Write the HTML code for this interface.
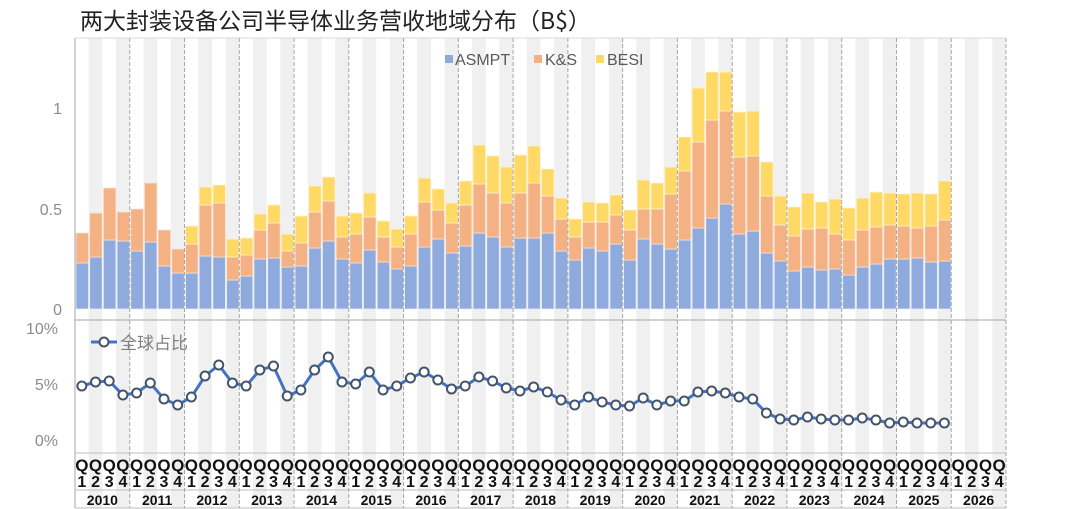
<!DOCTYPE html>
<html><head><meta charset="utf-8"><style>
body{margin:0;background:#fff;}
svg{display:block;font-family:"Liberation Sans","Noto Sans CJK SC",sans-serif;}
</style></head><body>
<svg id="c" width="1080" height="509" viewBox="0 0 1080 509" xmlns="http://www.w3.org/2000/svg">
<rect width="1080" height="509" fill="#fff"/>
<g id="bg"></g>
<g id="bars"></g>
<g id="grid"></g>
<g id="line"></g>
<text x="80" y="29" font-size="23" fill="#222" font-family="'Noto Sans CJK SC',sans-serif">两大封装设备公司半导体业务营收地域分布（B$）</text>
<g font-size="16" fill="#8c8c8c" text-anchor="end">
<text x="62" y="315">0</text><text x="62" y="215">0.5</text><text x="62" y="114">1</text>
<text x="58" y="334">10%</text><text x="58" y="390">5%</text><text x="58" y="446">0%</text>
</g>
<g font-size="16" fill="#595959">
<rect x="445" y="55" width="8" height="8" fill="#8eaadb"/><text x="455" y="65">ASMPT</text>
<rect x="534" y="55" width="8" height="8" fill="#f4b183"/><text x="545" y="65">K&amp;S</text>
<rect x="596" y="55" width="8" height="8" fill="#ffd966"/><text x="607" y="65">BESI</text>
</g>
<line x1="91" y1="342" x2="117" y2="342" stroke="#4472c4" stroke-width="3"/>
<circle cx="104" cy="342" r="4.5" fill="#fff" stroke="#44546a" stroke-width="2"/>
<text x="120" y="349" font-size="17" fill="#7f7f7f" font-family="'Noto Sans CJK SC',sans-serif">全球占比</text>
</svg>
<script>
var NS="http://www.w3.org/2000/svg";
function el(p,t,a,txt){var e=document.createElementNS(NS,t);for(var k in a)e.setAttribute(k,a[k]);if(txt!=null)e.textContent=txt;document.getElementById(p).appendChild(e);return e;}
var x0=75,x1=1006,n=68,q=(x1-x0)/n;
var d=[[263,233,233],[257,213,213],[240,188,188],[241,212,212],[251,209,209],[242,183,183],[266,230,230],[273,249,249],
[273,244,226],[256,205,187],[257,203,185],[280,257,239],[276,255,238],[259,230,214],[258,223,205],[267,251,234],
[266,243,216],[248,212,186],[241,201,177],[259,237,216],[263,234,213],[250,217,193],[262,237,221],[269,247,229],
[266,234,216],[247,202,178],[239,210,189],[253,223,203],[246,205,181],[233,184,145],[237,193,156],[247,203,167],
[238,193,155],[238,183,146],[233,196,169],[251,219,198],[260,237,219],[248,222,202],[251,222,203],[244,215,195],
[260,230,210],[239,209,180],[244,209,183],[249,194,167],[240,171,137],[228,142,88],[218,120,72],[204,111,72],
[234,157,112],[231,156,111],[253,196,162],[261,225,196],[271,236,207],[267,229,193],[270,228,202],[269,234,199],
[275,240,208],[267,230,198],[264,227,192],[259,225,193],[259,226,194],[258,228,193],[262,226,194],[261,220,181]];
var L=[386,382,381,395,393,383,399,405,397,376,365,383,386,370,366,396,390,370,357,382,384,372,390,386,378,372,380,389,386,377,381,388,391,387,392,400,405,397,402,405,406,398,405,401,401,392,391,393,397,399,413,419,420,417,419,420,420,418,420,423,422,423,423,423];
var B=309;
for(var i=0;i<n;i++){if(i%2==1)el("bg","rect",{x:x0+i*q,y:38,width:q,height:470,fill:"#f0f0f0"});}
for(var i=0;i<d.length;i++){var xa=x0+i*q+1,w=q-1.2,r=d[i];
el("bars","rect",{x:xa,y:r[0],width:w,height:B-r[0],fill:"#8faadc",stroke:"#e6ecf7","stroke-width":0.8});
if(r[1]<r[0])el("bars","rect",{x:xa,y:r[1],width:w,height:r[0]-r[1],fill:"#f4b183",stroke:"#fbe3d3","stroke-width":0.8});
if(r[2]<r[1])el("bars","rect",{x:xa,y:r[2],width:w,height:r[1]-r[2],fill:"#ffd966",stroke:"#fff2cc","stroke-width":0.8});}
el("grid","line",{x1:x0,y1:38,x2:x0,y2:508,stroke:"#a6a6a6"});
el("grid","line",{x1:x1,y1:38,x2:x1,y2:508,stroke:"#a6a6a6","stroke-dasharray":"4,2"});
el("grid","line",{x1:x0,y1:38,x2:x1,y2:38,stroke:"#d9d9d9"});
el("grid","line",{x1:x0,y1:320,x2:x1,y2:320,stroke:"#a6a6a6"});
el("grid","line",{x1:x0,y1:453,x2:x1,y2:453,stroke:"#bfbfbf"});
el("grid","line",{x1:x0,y1:490,x2:x1,y2:490,stroke:"#bfbfbf"});
el("grid","line",{x1:x0,y1:508,x2:x1,y2:508,stroke:"#bfbfbf"});
for(var y=1;y<17;y++){var xx=x0+y*4*q;el("grid","line",{x1:xx,y1:38,x2:xx,y2:508,stroke:"#a6a6a6","stroke-dasharray":"4,2"});}
for(var i=0;i<n;i++){var cx=x0+(i+0.5)*q;
el("grid","text",{x:cx,y:471,"font-size":17,"font-weight":"bold","text-anchor":"middle",fill:"#111"},"Q");
el("grid","text",{x:cx,y:487,"font-size":16,"font-weight":"bold","text-anchor":"middle",fill:"#111"},String(i%4+1));}
for(var y=0;y<17;y++){el("grid","text",{x:x0+(y*4+2)*q,y:505,"font-size":14,"font-weight":"bold","text-anchor":"middle",fill:"#111"},String(2010+y));}
var pts=L.map(function(v,i){return (x0+(i+0.5)*q).toFixed(1)+","+v;}).join(" ");
el("line","polyline",{points:pts,fill:"none",stroke:"#4472c4","stroke-width":3});
L.forEach(function(v,i){el("line","circle",{cx:x0+(i+0.5)*q,cy:v,r:4.5,fill:"#fff",stroke:"#44546a","stroke-width":2});});
</script>
</body></html>
